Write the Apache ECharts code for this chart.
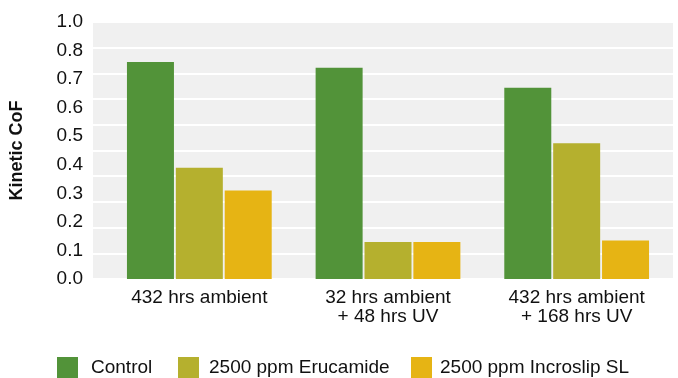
<!DOCTYPE html>
<html>
<head>
<meta charset="utf-8">
<script src="https://cdn.jsdelivr.net/npm/echarts@6/dist/echarts.min.js"></script>
<style>html,body{margin:0;padding:0;background:#fff}#c{width:678px;height:378px}</style>
</head>
<body>
<div id="c"></div>
<script>
const categories = ['432 hrs ambient', '32 hrs ambient\n+ 48 hrs UV', '432 hrs ambient\n+ 168 hrs UV'];
const seriesNames = ['Control', '2500 ppm Erucamide', '2500 ppm Incroslip SL'];
const controlValues = [0.76, 0.74, 0.67];
const erucamideValues = [0.39, 0.13, 0.475];
const incroslipValues = [0.31, 0.13, 0.135];
const yTickLabels = ['0.0', '0.1', '0.2', '0.3', '0.4', '0.5', '0.6', '0.7', '0.8', '1.0'];
const colors = ['#529339', '#b5b02e', '#e6b414'];

const FONT = 'Liberation Sans, Arial, sans-serif';
const chart = echarts.init(document.getElementById('c'), null, {renderer: 'canvas'});
const allValues = [controlValues, erucamideValues, incroslipValues];
const legendLefts = [57, 178, 411];
const legendPads = [8, 5, 3];

chart.setOption({
  animation: false,
  textStyle: {fontFamily: FONT},
  grid: [
    {left: 93, right: 5, top: 22, bottom: 99, show: true, backgroundColor: '#f0f0f0', borderWidth: 0},
    {left: 104, right: 7, top: 22, bottom: 99}
  ],
  legend: seriesNames.map((n, i) => ({
    data: [n], left: legendLefts[i], top: 357, itemWidth: 21, itemHeight: 21,
    icon: 'rect', padding: 0, selectedMode: false,
    textStyle: {fontSize: 19, color: '#111', fontFamily: FONT, padding: [0, 0, 0, legendPads[i]]}
  })),
  xAxis: [
    {gridIndex: 0, type: 'value', show: false, min: 0, max: 1},
    {gridIndex: 1, type: 'category', data: categories,
     axisLine: {show: false}, axisTick: {show: false},
     axisLabel: {fontSize: 19, color: '#111', margin: 9, lineHeight: 19, fontFamily: FONT}}
  ],
  yAxis: [
    {gridIndex: 0, type: 'value', min: 0, max: 1, interval: 0.1,
     axisLabel: {show: false}, axisLine: {show: false}, axisTick: {show: false},
     splitLine: {show: true, lineStyle: {color: '#ffffff', width: 2}}},
    {gridIndex: 1, type: 'value', min: 0, max: 0.9, interval: 0.1,
     axisLine: {show: false}, axisTick: {show: false}, splitLine: {show: false},
     axisLabel: {fontSize: 19, color: '#111', margin: 22, fontFamily: FONT,
       formatter: (v, i) => yTickLabels[i]},
     name: 'Kinetic CoF', nameLocation: 'middle', nameRotate: 90, nameGap: 79,
     nameTextStyle: {fontSize: 18, fontWeight: 'bold', color: '#111', fontFamily: FONT}}
  ],
  series: seriesNames.map((n, i) => ({
    name: n, type: 'bar', xAxisIndex: 1, yAxisIndex: 1,
    data: allValues[i], barWidth: 47, barGap: '4%',
    itemStyle: {color: colors[i]}
  }))
});
</script>
</body>
</html>
